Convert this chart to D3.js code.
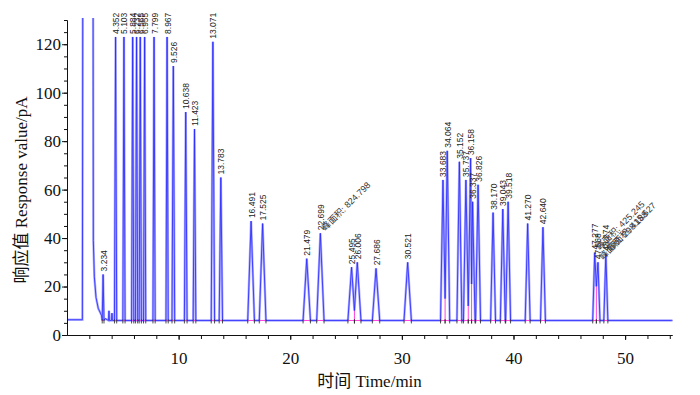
<!DOCTYPE html>
<html>
<head>
<meta charset="utf-8">
<script src="https://cdn.jsdelivr.net/npm/d3@7"></script>
<style>
  body { margin: 0; background: #fff; }
</style>
</head>
<body>
<div id="container"></div>
<script>
const config = {
    width: 700,
    height: 395,
    left: 67,
    right: 672,
    top: 20,
    bottom: 335,
}

// labelled peaks: retention time (min), apex response (pA), half base width (min)
const peakTimes = [3.234, 4.352, 5.103, 5.884, 6.232, 6.565, 6.955, 7.799, 8.967, 9.526,
    10.638, 11.423, 13.071, 13.783, 16.491, 17.525, 21.479, 22.699, 25.495, 26.006,
    27.686, 30.521, 33.683, 34.064, 35.152, 35.737, 36.158, 36.337, 36.826, 38.170,
    39.043, 39.518, 41.270, 42.640, 47.277, 47.568, 48.274];
const peakHeights = [25, 123, 123, 123, 123, 123, 123, 123, 123, 111,
    92, 85, 121, 65, 47, 46, 31.5, 42, 28, 30,
    27.5, 30, 64, 76, 71.5, 64, 73, 55, 62, 50.5,
    52, 55, 46, 44.5, 34, 30, 33.5];
const peakWidths = [0.08, 0.1, 0.1, 0.1, 0.1, 0.1, 0.1, 0.1, 0.1, 0.12,
    0.12, 0.12, 0.15, 0.15, 0.3, 0.3, 0.33, 0.33, 0.33, 0.33,
    0.33, 0.33, 0.22, 0.22, 0.22, 0.22, 0.22, 0.22, 0.22, 0.22,
    0.22, 0.22, 0.22, 0.22, 0.18, 0.18, 0.18];

// unresolved pairs: index of the left peak and the valley response between them
const valleyAfter = [18, 22, 25, 26, 34];
const valleyValues = [10, 15, 12, 21, 20];

// peak area notes
const areaTimes = [22.699, 47.277, 47.568, 48.274];
const areaValues = ['824.798', '425.245', '298.188', '415.627'];

// solvent front and its tail
const solventTimes = [0, 1.38, 1.45, 2.3, 2.36, 2.45, 2.6, 2.8, 3.1, 3.4, 3.8];
const solventValues = [6.3, 6.3, 300, 300, 39, 24, 15.5, 11, 8, 6.8, 6];

// small unlabelled peaks
const smallTimes = [3.76, 4.03, 54.2];
const smallHeights = [10, 9, 6];

const baseline = 6;
const xTicks = [10, 20, 30, 40, 50];
const xMinorTicks = d3.range(2, 55, 2);
const yTicks = [0, 20, 40, 60, 80, 100, 120];
const yMinorTicks = d3.range(0, 131, 5);

const serif = '"Liberation Serif", "Times New Roman", "Noto Sans CJK SC", serif';
const sans = '"Liberation Sans", Arial, "Noto Sans CJK SC", sans-serif';

const svg = d3.select('#container')
    .append('svg')
    .attr('width', config.width)
    .attr('height', config.height)
    .style('display', 'block')

const x = d3.scaleLinear()
    .domain([0, 54.2])
    .range([config.left, config.right])

const y = d3.scaleLinear()
    .domain([0, 130])
    .range([config.bottom, config.top])

// build the trace
const points = solventTimes.map((t, i) => [t, solventValues[i]]);
smallTimes.forEach((t, i) => {
    points.push([t - 0.04, baseline], [t, smallHeights[i]], [t + 0.04, baseline]);
});
const bounds = [];
peakTimes.forEach((t, i) => {
    const w = peakWidths[i];
    const leftValley = valleyAfter.indexOf(i - 1);
    const rightValley = valleyAfter.indexOf(i);
    let start = t - w, end = t + w;
    if (leftValley < 0) points.push([start, baseline]);
    else start = (peakTimes[i - 1] + t) / 2;
    points.push([t, peakHeights[i]]);
    if (rightValley < 0) points.push([end, baseline]);
    else {
        end = (t + peakTimes[i + 1]) / 2;
        points.push([end, valleyValues[rightValley]]);
    }
    bounds.push([start, end]);
});
points.sort((a, b) => a[0] - b[0]);

svg.append('clipPath')
    .attr('id', 'plot')
    .append('rect')
    .attr('x', config.left)
    .attr('y', config.top - 2)
    .attr('width', config.right - config.left + 2)
    .attr('height', config.bottom - config.top + 2)

const line = d3.line()
    .x(d => x(d[0]))
    .y(d => y(d[1]))

const trace = svg.append('g').attr('clip-path', 'url(#plot)');

trace.append('path')
    .datum(points)
    .attr('d', line)
    .attr('fill', 'none')
    .attr('stroke', '#b0b0ff')
    .attr('stroke-width', 2.4)

trace.append('path')
    .datum(points)
    .attr('d', line)
    .attr('fill', 'none')
    .attr('stroke', '#2a2aff')
    .attr('stroke-width', 0.85)

// integration baselines and drop lines
trace.selectAll('.base')
    .data(bounds)
    .join('line')
    .attr('class', 'base')
    .attr('x1', d => x(d[0]))
    .attr('x2', d => x(d[1]))
    .attr('y1', y(baseline))
    .attr('y2', y(baseline))
    .attr('stroke', '#ff40e0')
    .attr('stroke-width', 1)

trace.selectAll('.drop')
    .data(valleyAfter)
    .join('line')
    .attr('class', 'drop')
    .attr('x1', d => x((peakTimes[d] + peakTimes[d + 1]) / 2))
    .attr('x2', d => x((peakTimes[d] + peakTimes[d + 1]) / 2))
    .attr('y1', y(baseline))
    .attr('y2', (d, i) => y(valleyValues[i]))
    .attr('stroke', '#ff40e0')
    .attr('stroke-width', 1)

svg.append('g')
    .selectAll('line')
    .data(bounds.flat())
    .join('line')
    .attr('x1', d => x(d))
    .attr('x2', d => x(d))
    .attr('y1', y(baseline) - 1)
    .attr('y2', y(baseline) + 3)
    .attr('stroke', '#222')
    .attr('stroke-width', 0.8)

// peak labels
svg.append('g')
    .selectAll('text')
    .data(peakTimes)
    .join('text')
    .attr('transform', (d, i) => `translate(${x(d) + 3.5},${y(peakHeights[i]) - 3}) rotate(-90)`)
    .text(d => d3.format('.3f')(d))
    .style('font-family', sans)
    .style('font-size', '8.5px')
    .style('fill', '#222')

svg.append('g')
    .selectAll('text')
    .data(areaTimes)
    .join('text')
    .attr('transform', d => {
        const i = peakTimes.indexOf(d);
        return `translate(${x(d) + 5},${y(peakHeights[i]) - 2}) rotate(-45)`;
    })
    .text((d, i) => `峰面积: ${areaValues[i]}`)
    .style('font-family', sans)
    .style('font-size', '9px')
    .style('fill', '#333')

// axes
svg.append('g')
    .attr('transform', `translate(0,${config.bottom})`)
    .call(d3.axisBottom(x).tickValues(xMinorTicks).tickSize(4).tickSizeOuter(0).tickFormat(''))

const xAxis = svg.append('g')
    .attr('transform', `translate(0,${config.bottom})`)
    .call(d3.axisBottom(x).tickValues(xTicks).tickSize(5).tickSizeOuter(0))
xAxis.selectAll('text').attr('y', 17)

svg.append('g')
    .attr('transform', `translate(${config.left},0)`)
    .call(d3.axisLeft(y).tickValues(yMinorTicks).tickSize(3).tickSizeOuter(0).tickFormat(''))

svg.append('g')
    .attr('transform', `translate(${config.left},0)`)
    .call(d3.axisLeft(y).tickValues(yTicks).tickSize(5).tickSizeOuter(0).tickPadding(1))

svg.selectAll('.tick text')
    .style('font-family', serif)
    .style('font-size', '17px')
    .style('fill', '#111')

svg.selectAll('.domain, .tick line')
    .attr('stroke', '#111')

svg.append('text')
    .attr('text-anchor', 'middle')
    .attr('x', (config.left + config.right) / 2)
    .attr('y', 387)
    .text('时间 Time/min')
    .style('font-family', serif)
    .style('font-size', '17px')
    .style('fill', '#111')

svg.append('text')
    .attr('text-anchor', 'middle')
    .attr('transform', 'translate(27,190) rotate(-90)')
    .text('响应值 Response value/pA')
    .style('font-family', serif)
    .style('font-size', '17px')
    .style('fill', '#111')
</script>
</body>
</html>
